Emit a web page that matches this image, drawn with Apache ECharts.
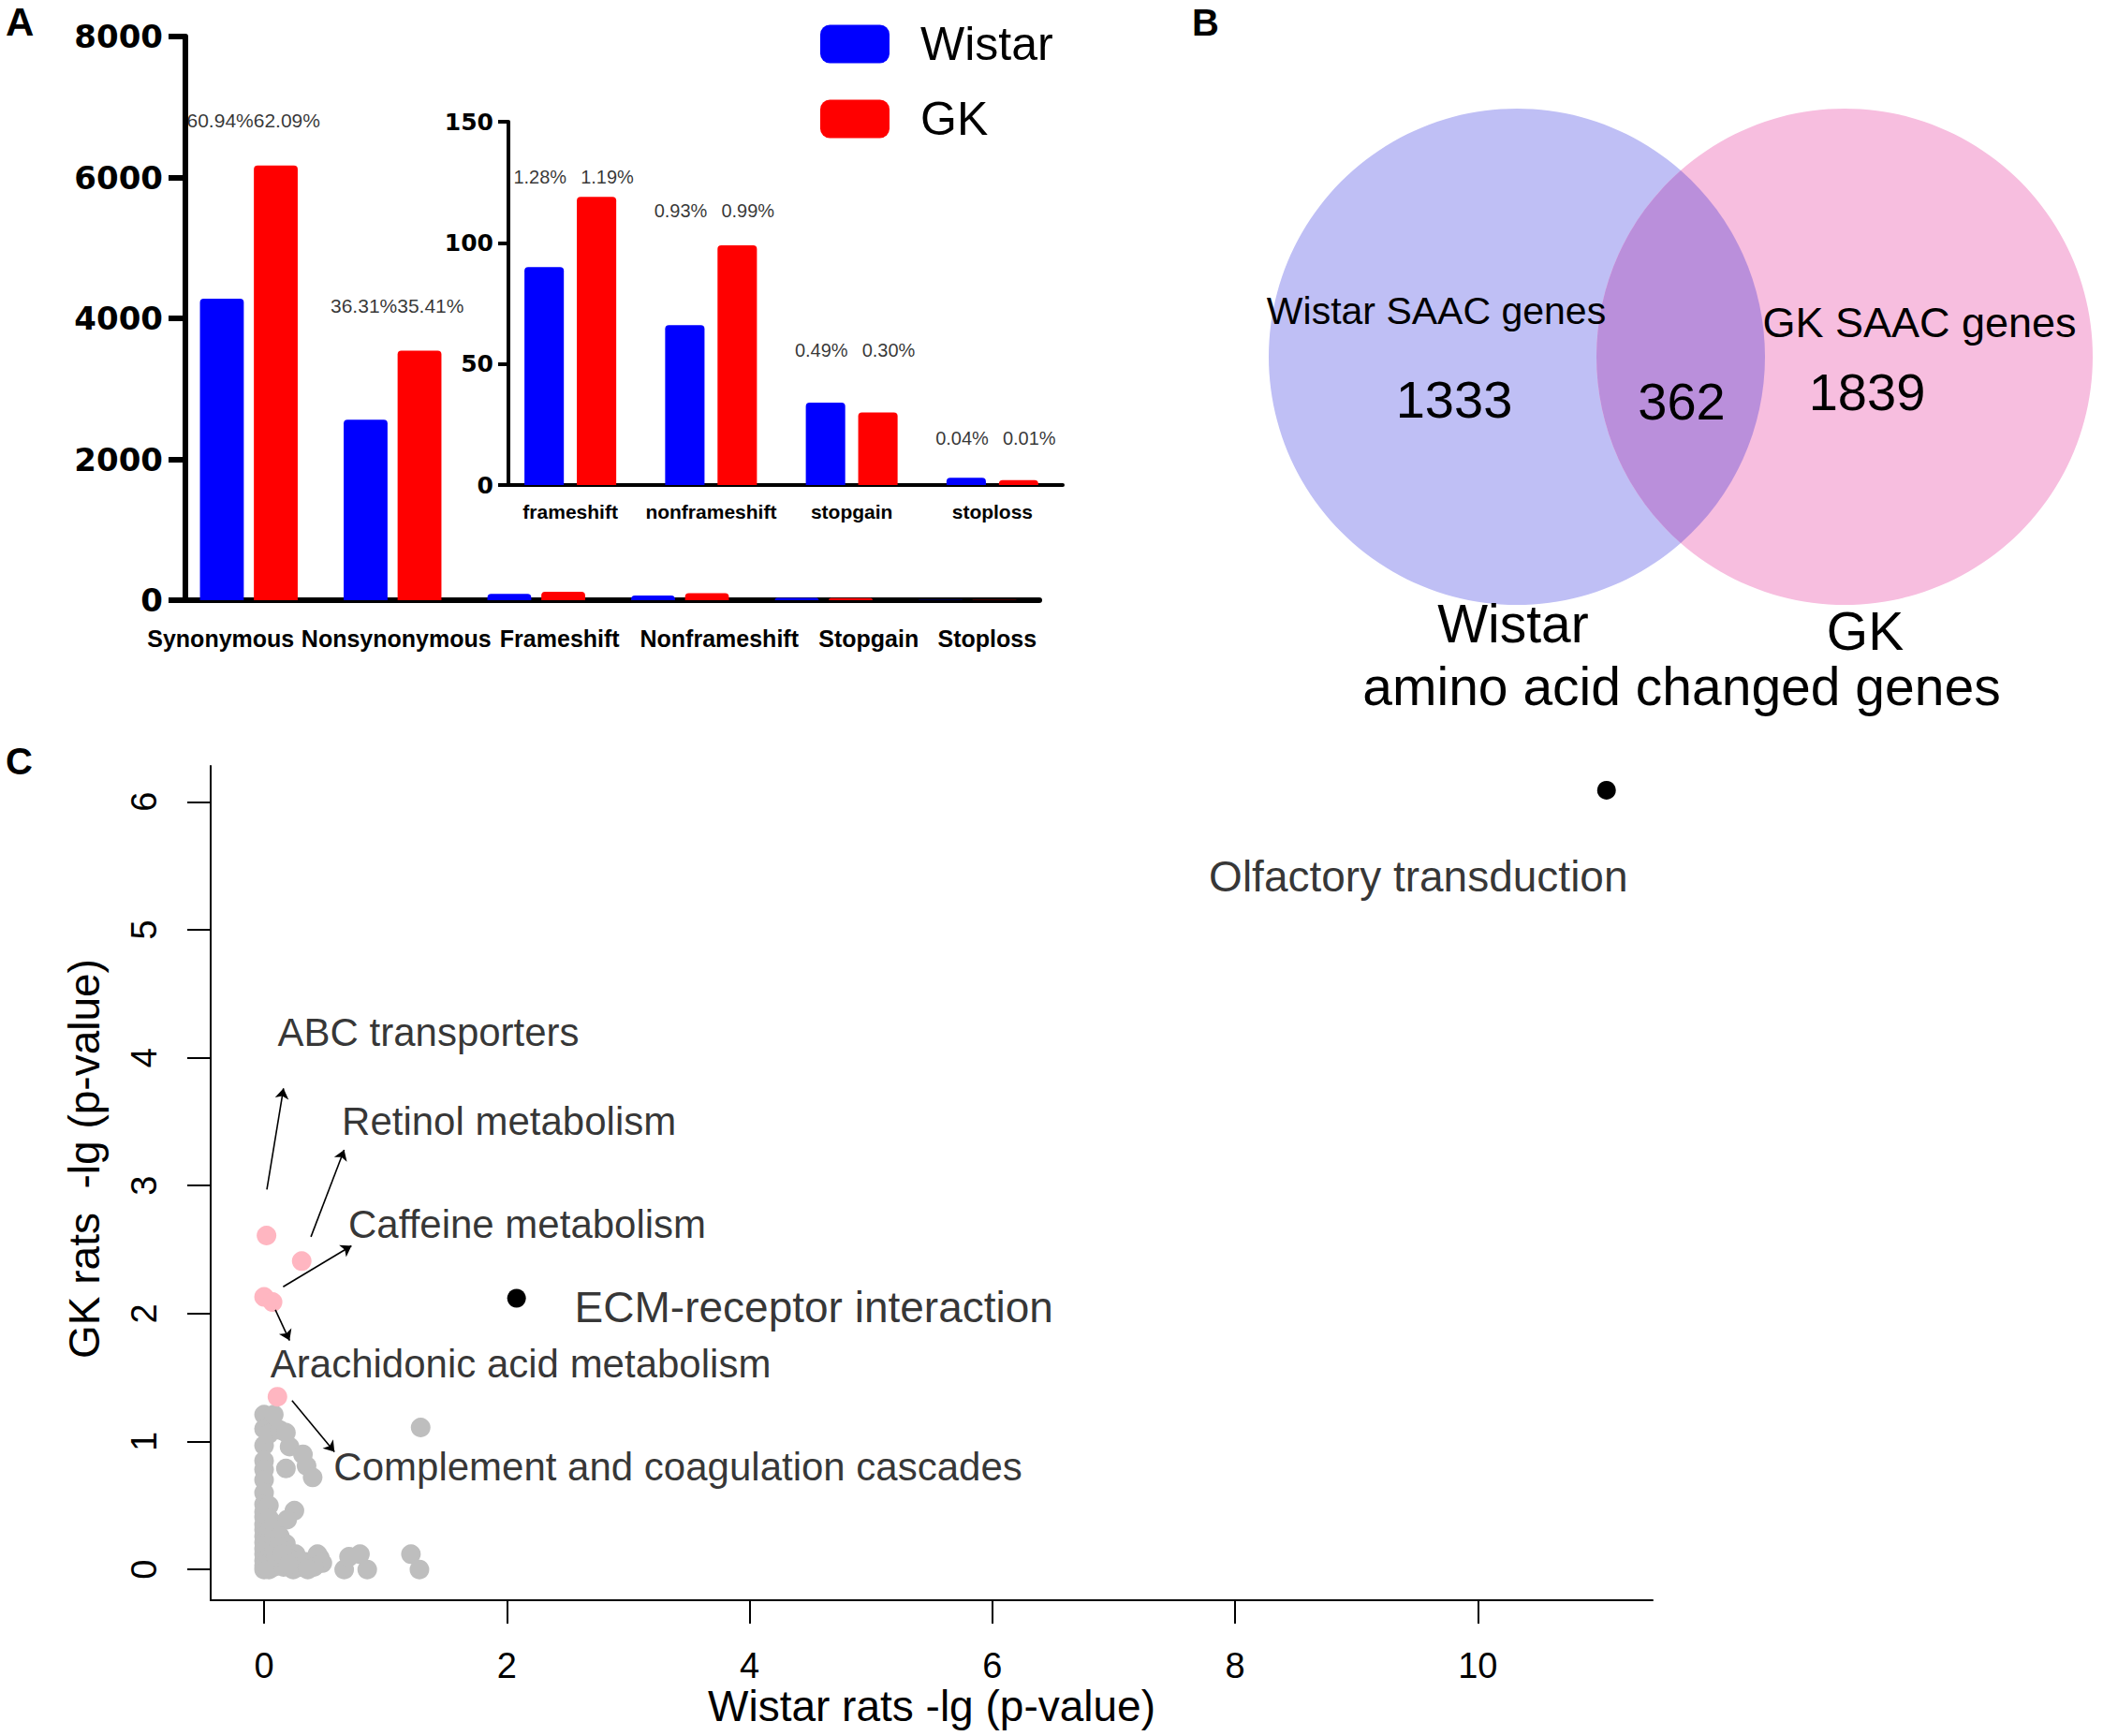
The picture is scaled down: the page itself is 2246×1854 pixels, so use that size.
<!DOCTYPE html>
<html><head><meta charset="utf-8">
<script src="https://cdn.jsdelivr.net/npm/echarts@6/dist/echarts.min.js"></script>
<style>html,body{margin:0;padding:0;background:#fff}#chart{width:2246px;height:1854px}</style>
</head><body><div id="chart"></div>
<script>
// ---------------- Panel A data ----------------
const variantTypes = ['Synonymous', 'Nonsynonymous', 'Frameshift', 'Nonframeshift', 'Stopgain', 'Stoploss'];
const wistarCounts = [4280, 2560, 90, 66, 34, 3];
const gkCounts     = [6170, 3540, 119, 99, 30, 2];
const wistarPct = ['60.94%', '36.31%', '1.28%', '0.93%', '0.49%', '0.04%'];
const gkPct     = ['62.09%', '35.41%', '1.19%', '0.99%', '0.30%', '0.01%'];
const mainTicks  = [0, 2000, 4000, 6000, 8000];
const insetTicks = [0, 50, 100, 150];

// ---------------- Panel B data ----------------
const vennSets = ['Wistar', 'GK'];
const vennRegionTitles = ['Wistar SAAC genes', 'GK SAAC genes'];
const vennCounts = [1333, 362, 1839]; // Wistar only, shared, GK only
const vennCaption = 'amino acid changed genes';

// ---------------- Panel C data ----------------
const xTicksC = [0, 2, 4, 6, 8, 10];
const yTicksC = [0, 1, 2, 3, 4, 5, 6];
const grayWistar = [
  0,0,0,0,0,0,0,0,0,0,0,0,0,0,0,0,0,0,0,
  0.04,0.04,0.04,0.04,0.04,0.04,0.04,0.04,0.04,
  0.08,0.08,0.08,0.08,0.08,
  0.13,0.18,0.21,0.32,0.18,0.35,0.40,0.25,0.19,0.13,0.18,0.12,0.26,0.22,0.34,0.44,0.46,0.48,0.41,0.16,0.30,0.24,0.36,0.10,0.15,0.20,
  0.66,0.70,0.79,0.85,1.21,1.28,1.29
];
const grayGK = [
  1.21,1.10,0.97,0.85,0.78,0.70,0.60,0.51,0.45,0.41,0.35,0.31,0.26,0.21,0.16,0.12,0.07,0.03,0.0,
  1.06,0.50,0.40,0.30,0.22,0.15,0.10,0.05,0.0,
  1.21,0.36,0.25,0.14,0.02,
  1.09,1.07,0.96,0.90,0.79,0.81,0.72,0.46,0.39,0.26,0.20,0.18,0.12,0.08,0.06,0.12,0.09,0.05,0.02,0.02,0.02,0.0,0.0,0.10,0.12,0.04,
  0.0,0.10,0.12,0.0,0.12,0.0,1.11
];
const pinkNames  = ['ABC transporters', 'Retinol metabolism', 'Caffeine metabolism', 'Arachidonic acid metabolism', 'Complement and coagulation cascades'];
const pinkWistar = [0.02, 0.31, 0.0, 0.07, 0.11];
const pinkGK     = [2.61, 2.41, 2.13, 2.09, 1.35];
const blackNames  = ['ECM-receptor interaction', 'Olfactory transduction'];
const blackWistar = [2.08, 11.06];
const blackGK     = [2.12, 6.09];

// ---------------- layout (positions / styles only) ----------------
const FONT = 'Liberation Sans, Arial, sans-serif';
const mainLabelShift = [-30, 4, 25, 42, 48, 21];
const insetLabelLift = [21, 37, 56, 42];
const annotationLayout = {
  'ABC transporters': {at: [1.354, 4.20], size: 42, arrow: [[0.023, 2.97], [0.16, 3.76]]},
  'Retinol metabolism': {at: [2.018, 3.50], size: 42, arrow: [[0.386, 2.60], [0.66, 3.28]]},
  'Caffeine metabolism': {at: [2.168, 2.70], size: 42, arrow: [[0.157, 2.21], [0.72, 2.53]]},
  'Arachidonic acid metabolism': {at: [2.114, 1.61], size: 42, arrow: [[0.093, 2.03], [0.21, 1.79]]},
  'Complement and coagulation cascades': {at: [3.41, 0.80], size: 42, arrow: [[0.23, 1.32], [0.58, 0.92]]},
  'ECM-receptor interaction': {at: [4.53, 2.05], size: 46},
  'Olfactory transduction': {at: [9.51, 5.42], size: 46}
};
const vennText = {
  title0: [179, 216, 41], title1: [695, 228, 45],
  count0: [198, 310, 56], count1: [441, 312, 56], count2: [639, 302, 56],
  set0: [261, 550, 57], set1: [637, 558, 57], caption: [441, 617, 57]
};

function shiftPad(s) { return s >= 0 ? [0, 0, 0, 2 * s] : [0, -2 * s, 0, 0]; }

function pctSeries(xIdx, yIdx, idxs, pcts, align, dx, lifts, fs) {
  return {
    type: 'scatter', xAxisIndex: xIdx, yAxisIndex: yIdx, silent: true, z: 6,
    symbolSize: 0, itemStyle: {color: 'transparent'},
    data: idxs.map((k, j) => ({
      value: [j, Math.max(wistarCounts[k], gkCounts[k])],
      label: {offset: [dx, -lifts[j]], formatter: pcts[k]}
    })),
    label: {show: true, position: 'inside', align: align, verticalAlign: 'middle',
      fontSize: fs, lineHeight: fs, fontFamily: FONT, color: '#000'}
  };
}

const chart = echarts.init(document.getElementById('chart'), null, {renderer: 'svg'});

const insetIdx = [2, 3, 4, 5];
const allAnnot = pinkNames.concat(blackNames);

const option = {
  animation: false,
  backgroundColor: '#fff',
  title: [
    {text: 'A', left: 6, top: 2, padding: 0, textStyle: {fontFamily: FONT, fontWeight: 'bold', fontSize: 42, color: '#000'}},
    {text: 'B', left: 1273, top: 4, padding: 0, textStyle: {fontFamily: FONT, fontWeight: 'bold', fontSize: 40, color: '#000'}},
    {text: 'C', left: 6, top: 793, padding: 0, textStyle: {fontFamily: FONT, fontWeight: 'bold', fontSize: 40, color: '#000'}}
  ],
  legend: {
    data: ['Wistar', 'GK'], orient: 'vertical', left: 876, top: 22, padding: 0,
    itemWidth: 74, itemHeight: 41, itemGap: 30, icon: 'roundRect', selectedMode: false,
    textStyle: {fontSize: 50, lineHeight: 41, fontFamily: FONT, color: '#000', padding: [0, 0, 0, 28]}
  },
  grid: [
    {left: 189, top: 39, width: 921, height: 602, outerBoundsMode: 'none'},
    {left: 534, top: 130, width: 601, height: 388, outerBoundsMode: 'none'},
    {left: 225, top: 818, width: 1540, height: 891, outerBoundsMode: 'none'},
    {left: 1355, top: 116, width: 880, height: 530, outerBoundsMode: 'none'}
  ],
  xAxis: [
    {type: 'category', gridIndex: 0,
      data: variantTypes.map((v, i) => ({value: v, textStyle: {padding: shiftPad(mainLabelShift[i])}})),
      axisLine: {onZero: false, lineStyle: {color: '#000', width: 6}},
      axisTick: {alignWithLabel: true, length: 16, lineStyle: {color: '#000', width: 6}},
      axisLabel: {interval: 0, margin: 28, fontFamily: FONT, fontWeight: 'bold', fontSize: 25, color: '#000'},
      splitLine: {show: false}},
    {type: 'category', gridIndex: 1,
      data: insetIdx.map(k => variantTypes[k].toLowerCase()),
      axisLine: {onZero: false, lineStyle: {color: '#000', width: 4}},
      axisTick: {alignWithLabel: true, length: 11, lineStyle: {color: '#000', width: 4}},
      axisLabel: {interval: 0, margin: 18, fontFamily: FONT, fontWeight: 'bold', fontSize: 21, color: '#000'},
      splitLine: {show: false}},
    {type: 'value', gridIndex: 2, min: -0.44, max: 11.44,
      axisLine: {onZero: false, lineStyle: {color: '#000', width: 2}},
      axisTick: {customValues: xTicksC, length: 25, lineStyle: {color: '#000', width: 2}},
      axisLabel: {customValues: xTicksC, margin: 51, fontSize: 38, fontFamily: FONT, color: '#000'},
      splitLine: {show: false},
      name: 'Wistar rats -lg (p-value)', nameLocation: 'middle', nameGap: 88,
      nameTextStyle: {fontSize: 46, lineHeight: 44, fontFamily: FONT, color: '#000'}},
    {type: 'value', gridIndex: 3, min: 0, max: 1, show: false}
  ],
  yAxis: [
    {type: 'value', gridIndex: 0, min: 0, max: 8000, interval: 2000, offset: -9,
      axisLine: {show: true, onZero: false, lineStyle: {color: '#000', width: 6}},
      axisTick: {show: true, length: 18, lineStyle: {color: '#000', width: 6}},
      axisLabel: {customValues: mainTicks, formatter: v => String(v), margin: 24,
        fontFamily: 'DejaVu Sans', fontWeight: 'bold', fontSize: 34, color: '#000'},
      splitLine: {show: false}},
    {type: 'value', gridIndex: 1, min: 0, max: 150, interval: 50, offset: -9,
      axisLine: {show: true, onZero: false, lineStyle: {color: '#000', width: 4}},
      axisTick: {show: true, length: 11, lineStyle: {color: '#000', width: 4}},
      axisLabel: {customValues: insetTicks, formatter: v => String(v), margin: 16,
        fontFamily: 'DejaVu Sans', fontWeight: 'bold', fontSize: 25, color: '#000'},
      splitLine: {show: false}},
    {type: 'value', gridIndex: 2, min: -0.24, max: 6.28,
      axisLine: {show: true, onZero: false, lineStyle: {color: '#000', width: 2}},
      axisTick: {show: true, customValues: yTicksC, length: 25, lineStyle: {color: '#000', width: 2}},
      axisLabel: {customValues: yTicksC, formatter: v => String(v), rotate: 90, margin: 52,
        fontSize: 38, fontFamily: FONT, color: '#000'},
      splitLine: {show: false},
      name: 'GK rats  -lg (p-value)', nameLocation: 'middle', nameRotate: 90, nameGap: 112,
      nameTextStyle: {fontSize: 46, lineHeight: 46, fontFamily: FONT, color: '#000', padding: [0, 0, 0, 52]}},
    {type: 'value', gridIndex: 3, min: 0, max: 1, show: false}
  ],
  series: [
    // Panel A main bars
    {name: 'Wistar', type: 'bar', xAxisIndex: 0, yAxisIndex: 0, data: wistarCounts,
      barWidth: '30.5%', barGap: '23%', itemStyle: {color: '#0000FF', borderRadius: [4, 4, 0, 0]}},
    {name: 'GK', type: 'bar', xAxisIndex: 0, yAxisIndex: 0, data: gkCounts,
      barWidth: '30.5%', barGap: '23%', itemStyle: {color: '#FF0000', borderRadius: [4, 4, 0, 0]}},
    // Panel A inset bars
    {name: 'Wistar', type: 'bar', xAxisIndex: 1, yAxisIndex: 1, data: insetIdx.map(k => wistarCounts[k]),
      barWidth: '28%', barGap: '33%', itemStyle: {color: '#0000FF', borderRadius: [4, 4, 0, 0]}},
    {name: 'GK', type: 'bar', xAxisIndex: 1, yAxisIndex: 1, data: insetIdx.map(k => gkCounts[k]),
      barWidth: '28%', barGap: '33%', itemStyle: {color: '#FF0000', borderRadius: [4, 4, 0, 0]}},
    // percentage labels
    pctSeries(0, 0, [0, 1], wistarPct, 'right', 5, [48, 48], 21),
    pctSeries(0, 0, [0, 1], gkPct, 'left', 5, [48, 48], 21),
    pctSeries(1, 1, insetIdx, wistarPct, 'right', -4, insetLabelLift, 20),
    pctSeries(1, 1, insetIdx, gkPct, 'left', 11, insetLabelLift, 20),
    // Panel B Venn
    {type: 'custom', xAxisIndex: 3, yAxisIndex: 3, silent: true, data: [[0, 0]],
      renderItem: function (params, api) {
        const tl = api.coord([0, 1]), br = api.coord([1, 0]);
        const r = (br[1] - tl[1]) / 2, cy = tl[1] + r;
        const c1 = tl[0] + r, c2 = br[0] - r, mx = (c1 + c2) / 2;
        const h = Math.sqrt(r * r - Math.pow((c2 - c1) / 2, 2));
        const lens = 'M' + mx + ' ' + (cy - h) + ' A' + r + ' ' + r + ' 0 0 1 ' + mx + ' ' + (cy + h) +
                     ' A' + r + ' ' + r + ' 0 0 1 ' + mx + ' ' + (cy - h) + ' Z';
        const T = (txt, L) => ({type: 'text', style: {text: String(txt), x: tl[0] + L[0], y: tl[1] + L[1],
          align: 'center', verticalAlign: 'middle', fontSize: L[2], lineHeight: Math.round(L[2] * 0.85),
          fontFamily: FONT, fill: '#000'}});
        return {type: 'group', children: [
          {type: 'circle', shape: {cx: c1, cy: cy, r: r}, style: {fill: '#BFBFF5'}},
          {type: 'circle', shape: {cx: c2, cy: cy, r: r}, style: {fill: '#F7BEDF'}},
          {type: 'path', shape: {pathData: lens}, style: {fill: '#BA8FDB'}},
          T(vennRegionTitles[0], vennText.title0),
          T(vennRegionTitles[1], vennText.title1),
          T(vennCounts[0], vennText.count0),
          T(vennCounts[1], vennText.count1),
          T(vennCounts[2], vennText.count2),
          T(vennSets[0], vennText.set0),
          T(vennSets[1], vennText.set1),
          T(vennCaption, vennText.caption)
        ]};
      }},
    // Panel C points
    {type: 'scatter', xAxisIndex: 2, yAxisIndex: 2, z: 2, symbolSize: 21, silent: true,
      itemStyle: {color: '#BEBEBE', opacity: 1},
      data: grayWistar.map((x, i) => [x, grayGK[i]])},
    {type: 'scatter', xAxisIndex: 2, yAxisIndex: 2, z: 3, symbolSize: 21, silent: true,
      itemStyle: {color: '#FFB6C1', opacity: 1},
      data: pinkWistar.map((x, i) => ({name: pinkNames[i], value: [x, pinkGK[i]]}))},
    {type: 'scatter', xAxisIndex: 2, yAxisIndex: 2, z: 4, symbolSize: 20, silent: true,
      itemStyle: {color: '#000', opacity: 1},
      data: blackWistar.map((x, i) => ({name: blackNames[i], value: [x, blackGK[i]]}))},
    // Panel C annotation texts
    {type: 'scatter', xAxisIndex: 2, yAxisIndex: 2, z: 5, symbolSize: 0, silent: true, clip: false,
      itemStyle: {color: 'transparent'},
      data: allAnnot.map(n => ({name: n, value: annotationLayout[n].at,
        label: {fontSize: annotationLayout[n].size, lineHeight: annotationLayout[n].size}})),
      label: {show: true, position: 'inside', formatter: '{b}', align: 'center', verticalAlign: 'middle',
        fontFamily: FONT, color: '#000'}},
    // Panel C arrows
    {type: 'lines', coordinateSystem: 'cartesian2d', xAxisIndex: 2, yAxisIndex: 2, z: 5, silent: true,
      symbol: ['none', 'arrow'], symbolSize: 11,
      lineStyle: {color: '#000', width: 1.6, opacity: 1, curveness: 0},
      data: pinkNames.map(n => ({coords: annotationLayout[n].arrow}))}
  ]
};
chart.setOption(option);
</script>
</body></html>
